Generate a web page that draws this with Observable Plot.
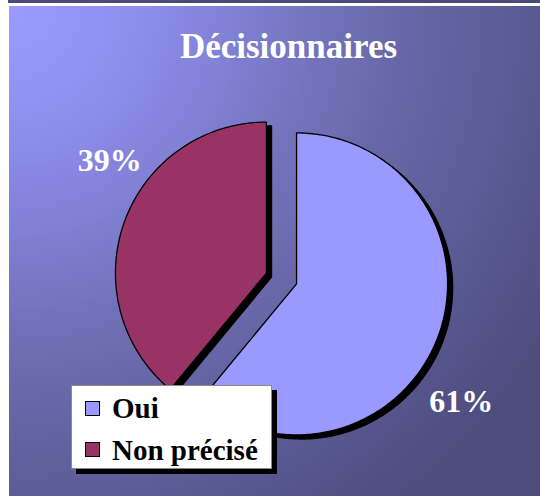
<!DOCTYPE html>
<html><head><meta charset="utf-8">
<script src="https://cdn.jsdelivr.net/npm/d3@7"></script>
<script src="https://cdn.jsdelivr.net/npm/@observablehq/plot@0.6"></script>
<style>
html,body{margin:0;padding:0;background:#fff;}
#bar{position:absolute;left:8px;top:0;width:532px;height:3px;background:#4b4b7b;}
#panel{position:absolute;left:9px;top:6px;width:531px;height:490px;overflow:hidden;
  background:radial-gradient(circle 640px at 0 0,#9c9cff 0%,#8c8ceb 22%,#6a6aac 58%,#4c4c7e 100%);}
#title{position:absolute;left:0;top:23px;width:559px;text-align:center;color:#fff;
  font-family:"Liberation Serif",serif;font-weight:bold;font-size:35px;line-height:35px;}
#chart{position:absolute;left:0;top:0;}
#legend{position:absolute;left:62px;top:379px;width:199px;height:82px;background:#fff;
  border:1px solid #8a8a8a;box-shadow:5px 5px 0 #000;font-family:"Liberation Serif",serif;font-weight:bold;}
.sw{position:absolute;left:13px;width:13px;height:13px;border:1px solid #000;}
.lt{position:absolute;left:40px;font-size:29px;line-height:29px;color:#000;white-space:nowrap;}
</style></head>
<body>
<div id="bar"></div>
<div id="panel">
  <div id="chart"></div>
  <div id="title"></div>
  <div id="legend"></div>
</div>
<script>
const title = "Décisionnaires";
const categories = ["Oui", "Non précisé"];
const values = [61, 39];
const colors = ["#9999ff", "#993366"];

document.getElementById("title").textContent = title;

const explode = 0.106, labelR = 1.41, labelShift = 14.6 * Math.PI / 180;
const arcs = d3.pie().sort(null).value(d => d)(values);
const pts = [], labels = [];
arcs.forEach((a, i) => {
  const m = (a.startAngle + a.endAngle) / 2;
  const ox = explode * Math.sin(m), oy = explode * Math.cos(m);
  pts.push({key: categories[i], x: ox, y: oy});
  const n = Math.ceil((a.endAngle - a.startAngle) / (Math.PI / 180));
  for (let k = 0; k <= n; k++) {
    const t = a.startAngle + (a.endAngle - a.startAngle) * k / n;
    pts.push({key: categories[i], x: ox + Math.sin(t), y: oy + Math.cos(t)});
  }
  const lm = m + labelShift;
  labels.push({text: values[i] + "%", x: labelR * Math.sin(lm), y: labelR * Math.cos(lm)});
});

const cx = 272, cy = 272, R = 151;
const plot = Plot.plot({
  width: 531, height: 490,
  marginTop: 0, marginRight: 0, marginBottom: 0, marginLeft: 0,
  style: {background: "transparent", overflow: "visible"},
  x: {domain: [-1, 1], range: [cx - R, cx + R], axis: null},
  y: {domain: [-1, 1], range: [cy + R, cy - R], axis: null},
  color: {domain: categories, range: colors},
  marks: [
    Plot.line(pts, {x: "x", y: "y", z: "key", fill: "#000", stroke: "#000", strokeWidth: 1.5, curve: "linear-closed", dx: 5, dy: 4}),
    Plot.line(pts, {x: "x", y: "y", z: "key", fill: "key", stroke: "#000", strokeWidth: 1.3, curve: "linear-closed"}),
    Plot.text(labels, {x: "x", y: "y", text: "text", fill: "#fff", fontSize: 32, fontWeight: "bold", fontFamily: "Liberation Serif", dx: 4, dy: 2.5})
  ]
});
document.getElementById("chart").appendChild(plot);

const leg = document.getElementById("legend");
categories.forEach((c, i) => {
  const sw = document.createElement("div");
  sw.className = "sw"; sw.style.top = (15 + i * 41) + "px"; sw.style.background = colors[i];
  leg.appendChild(sw);
  const t = document.createElement("div");
  t.className = "lt"; t.style.top = (8 + i * 42) + "px"; t.textContent = c;
  leg.appendChild(t);
});
</script>
</body></html>
